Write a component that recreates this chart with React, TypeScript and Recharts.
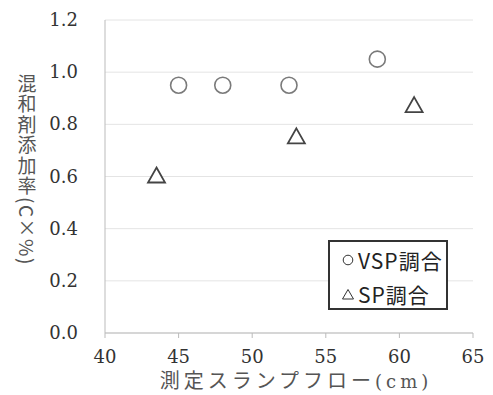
import { ScatterChart, Scatter, XAxis, YAxis, CartesianGrid } from 'recharts';

const vspFlow = [45, 48, 52.5, 58.5];
const vspRate = [0.95, 0.95, 0.95, 1.05];
const spFlow = [43.5, 53, 61];
const spRate = [0.6, 0.75, 0.87];
const xTicks = [40, 45, 50, 55, 60, 65];
const yTicks = [0, 0.2, 0.4, 0.6, 0.8, 1.0, 1.2];

const vspData = vspFlow.map((x, i) => ({ x, y: vspRate[i] }));
const spData = spFlow.map((x, i) => ({ x, y: spRate[i] }));

const SERIF = 'DejaVu Serif';
const JP = 'Noto Sans CJK JP';

const CircleMark = (props: any) => (
    <circle cx={props.cx} cy={props.cy} r={8} fill="#fff" stroke="#7a7a7a" strokeWidth={1.6} />
);

const TriangleMark = (props: any) => {
    const { cx, cy } = props;
    const d = `M${cx},${cy - 9} L${cx + 8.5},${cy + 6} L${cx - 8.5},${cy + 6} Z`;
    return <path d={d} fill="#fff" stroke="#444" strokeWidth={1.8} strokeLinejoin="miter" />;
};

const XTick = ({ x, y, payload }: any) => (
    <text x={x} y={y + 16} fill="#333" fontFamily={SERIF} fontSize={18} textAnchor="middle">
        {payload.value}
    </text>
);

const YTick = ({ x, y, payload }: any) => (
    <text x={x} y={y + 6} fill="#333" fontFamily={SERIF} fontSize={18} textAnchor="end">
        {Number(payload.value).toFixed(1)}
    </text>
);

// vertical axis title, CJK upright and the bracket part turned sideways
const YTitle = () => (
    <text
        x={27}
        y={170}
        fill="#555"
        fontFamily={JP}
        fontSize={19}
        textAnchor="middle"
        style={{ writingMode: 'vertical-rl', letterSpacing: 1.5 }}
    >
        混和剤添加率(C×%)
    </text>
);

const XTitle = () => (
    <text x={296} y={388} fill="#555" textAnchor="middle" fontSize={20} style={{ letterSpacing: 4 }}>
        <tspan fontFamily={JP}>測定スランプフロー</tspan>
        <tspan fontFamily={SERIF} fontSize={18}>(cm)</tspan>
    </text>
);

export default function App() {
    return (
        <div style={{ position: 'fixed', left: 0, top: 0, width: 493, height: 395, background: '#fff' }}>
            <ScatterChart width={493} height={395} margin={{ top: 20, right: 20, bottom: 0, left: 0 }}>
                <CartesianGrid vertical={false} stroke="#e4e4e4" />
                <XAxis
                    type="number"
                    dataKey="x"
                    domain={[40, 65]}
                    ticks={xTicks}
                    height={62}
                    stroke="#bbb"
                    tickSize={5}
                    tickMargin={9}
                    tick={XTick}
                    label={{ content: () => <XTitle /> }}
                />
                <YAxis
                    type="number"
                    dataKey="y"
                    domain={[0, 1.2]}
                    ticks={yTicks}
                    width={105}
                    stroke="#bbb"
                    tickLine={false}
                    tickSize={0}
                    tickMargin={27}
                    tick={YTick}
                    label={{ content: () => <YTitle /> }}
                />
                <Scatter data={vspData} shape={CircleMark} isAnimationActive={false} />
                <Scatter data={spData} shape={TriangleMark} isAnimationActive={false} />
            </ScatterChart>
            <div
                style={{
                    position: 'absolute',
                    left: 328,
                    top: 240,
                    width: 120,
                    height: 70,
                    border: '2px solid #333',
                    background: '#fff',
                    fontFamily: JP,
                    fontSize: 21,
                    letterSpacing: 1,
                    color: '#222',
                    padding: '1px 0 0 12px',
                    boxSizing: 'border-box',
                    lineHeight: '34px',
                }}
            >
                <div style={{ display: 'flex', alignItems: 'center' }}>
                    <svg width={12} height={12} style={{ marginRight: 4 }}>
                        <circle cx={6} cy={6} r={4.8} fill="none" stroke="#333" strokeWidth={1} />
                    </svg>
                    VSP調合
                </div>
                <div style={{ display: 'flex', alignItems: 'center' }}>
                    <svg width={12} height={12} style={{ marginRight: 4 }}>
                        <path d="M6,1.5 L11.5,11 L0.5,11 Z" fill="none" stroke="#333" strokeWidth={1} />
                    </svg>
                    SP調合
                </div>
            </div>
        </div>
    );
}
